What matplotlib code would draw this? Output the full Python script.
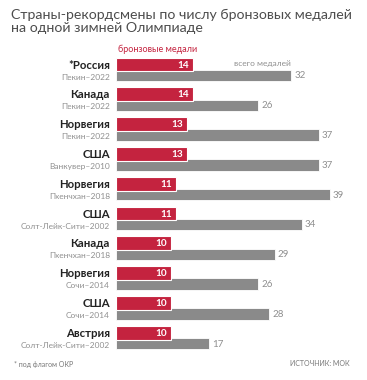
import matplotlib
matplotlib.use("Agg")
import matplotlib.pyplot as plt

countries = ["*Россия", "Канада", "Норвегия", "США", "Норвегия", "США", "Канада", "Норвегия", "США", "Австрия"]
games = ["Пекин–2022", "Пекин–2022", "Пекин–2022", "Ванкувер–2010", "Пхенчхан–2018",
         "Солт-Лейк-Сити–2002", "Пхенчхан–2018", "Сочи–2014", "Сочи–2014", "Солт-Лейк-Сити–2002"]
bronze = [14, 14, 13, 13, 11, 11, 10, 10, 10, 10]
total = [32, 26, 37, 37, 39, 34, 29, 26, 28, 17]

title = "Страны-рекордсмены по числу бронзовых медалей\nна одной зимней Олимпиаде"
bronze_label = "бронзовые медали"
total_label = "всего медалей"
footnote = "* под флагом ОКР"
source = "ИСТОЧНИК: МОК"

RED = "#c4233f"
GRAY = "#8a8a8a"
TXT_GRAY = "#8f8f8f"
DARK = "#222222"

plt.rcParams['font.family'] = ['Lato', 'Open Sans', 'DejaVu Sans']

W, H = 367, 380
fig = plt.figure(figsize=(W / 100, H / 100), dpi=100)
fig.patch.set_facecolor("white")

x0 = 116
ppu = 5.48
xmax = 40
row = 29.8
ax = fig.add_axes([x0 / W, 0, xmax * ppu / W, 1])
ytop = -64.5 / row
ax.set_xlim(0, xmax)
ax.set_ylim(ytop + H / row, ytop)
ax.axis("off")

ys = list(range(len(countries)))
gy = [y + 0.37 for y in ys]
ax.barh(gy, total, height=0.38, color=GRAY, edgecolor="white", linewidth=0.6, zorder=1)
ax.barh(ys, bronze, height=0.46, color=RED, edgecolor="white", linewidth=0.8, zorder=2)

for y, c, g, b, t in zip(ys, countries, games, bronze, total):
    ax.text(-1.1, y + 0.02, c, ha="right", va="center", fontsize=8.2, fontweight="bold", color=DARK)
    ax.text(-1.1, y + 0.42, g, ha="right", va="center", fontsize=6.0, color=TXT_GRAY)
    ax.text(b - 0.7, y + 0.02, str(b), ha="right", va="center", fontsize=7.2, fontweight="bold", color="white", zorder=3)
    ax.text(t + 0.5, y + 0.38, str(t), ha="left", va="center", fontsize=7.0, color=TXT_GRAY)

ax.text(0.3, -0.5, bronze_label, ha="left", va="center", fontsize=6.5, color=RED)
ax.text(total[0] - 0.1, -0.05, total_label, ha="right", va="center", fontsize=6.0, color=TXT_GRAY)

fig.text(11 / W, 1 - 9 / H, title, ha="left", va="top", fontsize=10.2, color="#4d4d4d",
         linespacing=1.12)
fig.text(14 / W, 1 - 364 / H, footnote, ha="left", va="center", fontsize=5.0, color="#777777")
fig.text(350 / W, 1 - 364 / H, source, ha="right", va="center", fontsize=5.0, color="#777777")

fig.savefig("out.png", dpi=100, facecolor="white")
